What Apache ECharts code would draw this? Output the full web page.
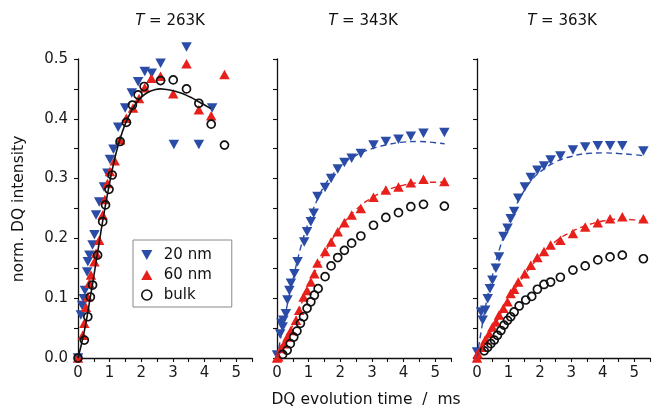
<!DOCTYPE html>
<html>
<head>
<meta charset="utf-8">
<script src="https://cdn.jsdelivr.net/npm/echarts@6/dist/echarts.min.js"></script>
<style>
  html, body { margin: 0; padding: 0; background: #fff; }
  #chart { width: 653px; height: 411px; }
</style>
</head>
<body>
<div id="chart"></div>
<script>
// DQ build-up curves: normalised DQ intensity vs DQ evolution time (ms)
const temperatures = ['263K', '343K', '363K'];
const sampleNames = ['20 nm', '60 nm', 'bulk'];
const xTicks = [0, 1, 2, 3, 4, 5];
const yTicks = ['0.0', '0.1', '0.2', '0.3', '0.4', '0.5'];

// T = 263K
const p263_20nm = [[0,0],[0.09,0.072],[0.13,0.088],[0.18,0.099],[0.22,0.113],[0.29,0.144],[0.31,0.161],[0.36,0.172],[0.46,0.189],[0.52,0.206],[0.57,0.239],[0.67,0.261],[0.82,0.286],[0.93,0.309],[1.01,0.332],[1.12,0.349],[1.27,0.386],[1.49,0.418],[1.70,0.443],[1.90,0.462],[2.11,0.479],[2.33,0.476],[2.61,0.493],[3.03,0.357],[3.43,0.520],[3.82,0.357],[4.24,0.418]];
const p263_60nm = [[0,0],[0.15,0.038],[0.2,0.058],[0.25,0.085],[0.31,0.102],[0.36,0.125],[0.41,0.139],[0.52,0.161],[0.57,0.175],[0.67,0.197],[0.78,0.239],[0.85,0.265],[0.93,0.292],[1.01,0.312],[1.16,0.330],[1.33,0.365],[1.53,0.401],[1.74,0.418],[1.93,0.434],[2.11,0.452],[2.32,0.468],[2.61,0.471],[3.01,0.442],[3.43,0.492],[3.82,0.415],[4.21,0.405],[4.63,0.474]];
const p263_bulk = [[0,0],[0.2,0.03],[0.31,0.069],[0.39,0.102],[0.46,0.122],[0.62,0.172],[0.78,0.228],[0.87,0.256],[0.98,0.282],[1.08,0.306],[1.33,0.362],[1.53,0.394],[1.72,0.423],[1.90,0.440],[2.09,0.454],[2.61,0.464],[3.01,0.465],[3.43,0.450],[3.82,0.426],[4.21,0.391],[4.63,0.356]];
const fit263_bulk = [[0,0],[0.2,0.045],[0.4,0.105],[0.6,0.17],[0.8,0.235],[1.0,0.293],[1.2,0.342],[1.4,0.378],[1.6,0.404],[1.8,0.423],[2.0,0.436],[2.2,0.444],[2.4,0.448],[2.6,0.450],[2.8,0.449],[3.0,0.447],[3.2,0.444],[3.4,0.440],[3.6,0.435],[3.8,0.429],[4.0,0.423],[4.2,0.417]];

// T = 343K
const p343_20nm = [[0,0.005],[0.1,0.04],[0.14,0.058],[0.18,0.052],[0.2,0.063],[0.28,0.074],[0.33,0.097],[0.39,0.113],[0.44,0.125],[0.55,0.141],[0.65,0.161],[0.86,0.194],[0.95,0.211],[1.07,0.228],[1.16,0.242],[1.28,0.270],[1.52,0.285],[1.71,0.300],[1.92,0.316],[2.13,0.327],[2.36,0.334],[2.65,0.342],[3.05,0.356],[3.44,0.362],[3.84,0.366],[4.23,0.371],[4.63,0.376],[5.29,0.377]];
const p343_60nm = [[0,0],[0.04,0.002],[0.13,0.016],[0.23,0.024],[0.33,0.035],[0.44,0.046],[0.60,0.063],[0.70,0.080],[0.84,0.102],[0.95,0.113],[1.07,0.127],[1.18,0.141],[1.28,0.159],[1.52,0.178],[1.71,0.194],[1.92,0.211],[2.13,0.226],[2.36,0.239],[2.65,0.250],[3.05,0.269],[3.44,0.281],[3.84,0.286],[4.23,0.293],[4.63,0.299],[5.29,0.295]];
const p343_bulk = [[0.18,0.006],[0.32,0.013],[0.42,0.024],[0.53,0.035],[0.63,0.045],[0.74,0.058],[0.84,0.069],[0.95,0.083],[1.07,0.094],[1.18,0.105],[1.30,0.116],[1.52,0.136],[1.71,0.154],[1.92,0.168],[2.13,0.180],[2.36,0.192],[2.65,0.204],[3.05,0.222],[3.44,0.235],[3.84,0.243],[4.23,0.253],[4.63,0.257],[5.29,0.254]];
const fit343_20nm = [[0,0],[0.25,0.07],[0.5,0.13],[0.75,0.185],[1,0.228],[1.25,0.262],[1.5,0.288],[1.75,0.306],[2,0.321],[2.5,0.339],[3,0.350],[3.5,0.357],[4,0.361],[4.5,0.362],[5,0.360],[5.3,0.358]];
const fit343_60nm = [[0,0],[0.5,0.055],[1,0.12],[1.5,0.175],[2,0.218],[2.5,0.248],[3,0.268],[3.5,0.281],[4,0.289],[4.5,0.293],[5,0.294],[5.3,0.294]];

// T = 363K
const p363_20nm = [[0,0.01],[0.13,0.077],[0.18,0.063],[0.26,0.080],[0.34,0.099],[0.41,0.116],[0.49,0.130],[0.60,0.150],[0.70,0.169],[0.84,0.203],[0.97,0.217],[1.07,0.233],[1.18,0.245],[1.31,0.267],[1.52,0.286],[1.71,0.302],[1.92,0.314],[2.13,0.321],[2.34,0.331],[2.65,0.338],[3.05,0.348],[3.44,0.353],[3.84,0.355],[4.23,0.355],[4.62,0.355],[5.29,0.346]];
const p363_60nm = [[0,0],[0.02,0.007],[0.16,0.018],[0.26,0.030],[0.39,0.041],[0.49,0.052],[0.60,0.060],[0.70,0.072],[0.84,0.083],[0.97,0.094],[1.07,0.108],[1.18,0.115],[1.31,0.127],[1.52,0.141],[1.71,0.155],[1.92,0.168],[2.13,0.178],[2.34,0.189],[2.65,0.197],[3.05,0.208],[3.44,0.219],[3.84,0.226],[4.23,0.233],[4.62,0.236],[5.29,0.233]];
const p363_bulk = [[0.23,0.012],[0.34,0.018],[0.44,0.024],[0.55,0.030],[0.65,0.038],[0.76,0.046],[0.86,0.055],[0.97,0.063],[1.07,0.069],[1.18,0.077],[1.34,0.087],[1.55,0.097],[1.74,0.103],[1.92,0.115],[2.13,0.123],[2.34,0.127],[2.65,0.135],[3.05,0.147],[3.44,0.154],[3.84,0.164],[4.23,0.169],[4.62,0.172],[5.29,0.166]];
const fit363_20nm = [[0,0],[0.25,0.08],[0.5,0.14],[0.75,0.188],[1,0.225],[1.25,0.256],[1.5,0.28],[1.75,0.298],[2,0.311],[2.5,0.328],[3,0.337],[3.5,0.342],[4,0.343],[4.5,0.342],[5,0.340],[5.3,0.338]];
const fit363_60nm = [[0,0],[0.5,0.048],[1,0.097],[1.5,0.138],[2,0.17],[2.5,0.195],[3,0.211],[3.5,0.222],[4,0.229],[4.5,0.232],[5,0.231],[5.3,0.229]];

const FONT = '"DejaVu Sans", "Liberation Sans", Arial, sans-serif';
const BLUE = '#2a4ca6';
const RED = '#e8201b';
const INK = '#111111';
const DOWN_TRI = 'path://M0,0L10,0L5,9Z';
const UP_TRI = 'path://M5,0L10,9L0,9Z';

const panelData = [
  { pts: [p263_20nm, p263_60nm, p263_bulk], fits: [null, null, fit263_bulk] },
  { pts: [p343_20nm, p343_60nm, p343_bulk], fits: [fit343_20nm, fit343_60nm, null] },
  { pts: [p363_20nm, p363_60nm, p363_bulk], fits: [fit363_20nm, fit363_60nm, null] }
];
const gridLefts = [78, 277, 477];
const titleCenters = [170, 363, 562];

const markerStyles = [
  { symbol: DOWN_TRI, symbolSize: [10.5, 9.5], itemStyle: { color: BLUE, opacity: 1 } },
  { symbol: UP_TRI, symbolSize: [10.5, 9.5], itemStyle: { color: RED, opacity: 1 } },
  { symbol: 'circle', symbolSize: 8, itemStyle: { color: 'rgba(0,0,0,0)', borderColor: INK, borderWidth: 1.7, opacity: 1 } }
];
const fitColors = [BLUE, RED, INK];

const grids = gridLefts.map(l => ({ left: l, top: 59, width: 174, height: 299 }));

const isWhole = v => Math.abs(v - Math.round(v)) < 1e-6;

const xAxes = gridLefts.map((_, i) => ({
  type: 'value', gridIndex: i, min: 0, max: 5.5, interval: 0.5,
  axisLine: { show: true, onZero: false, lineStyle: { color: INK, width: 1.3 } },
  axisTick: { show: true, length: 4, lineStyle: { color: INK, width: 1.1 } },
  axisLabel: {
    formatter: v => (isWhole(v) && xTicks.indexOf(Math.round(v)) >= 0) ? String(Math.round(v)) : '',
    fontSize: 15, fontFamily: FONT, color: '#1a1a1a', margin: 8
  },
  splitLine: { show: false }
}));

const yAxes = gridLefts.map((_, i) => ({
  type: 'value', gridIndex: i, min: 0, max: 0.5, interval: 0.05,
  axisLine: { show: true, onZero: false, lineStyle: { color: INK, width: 1.3 } },
  axisTick: { show: true, length: 4, lineStyle: { color: INK, width: 1.1 } },
  axisLabel: {
    show: i === 0,
    formatter: v => {
      const k = Math.round(v * 10);
      return Math.abs(v * 10 - k) < 1e-6 ? yTicks[k] : '';
    },
    fontSize: 15, fontFamily: FONT, color: '#1a1a1a', margin: 10
  },
  splitLine: { show: false }
}));

const series = [];
panelData.forEach((panel, i) => {
  panel.pts.forEach((pts, s) => {
    series.push(Object.assign({
      type: 'scatter', name: sampleNames[s], xAxisIndex: i, yAxisIndex: i,
      data: pts, clip: false, z: 2 + s
    }, markerStyles[s]));
  });
  panel.fits.forEach((fit, s) => {
    if (!fit) return;
    series.push({
      type: 'line', xAxisIndex: i, yAxisIndex: i, data: fit, smooth: true,
      showSymbol: false, silent: true, z: s === 2 ? 6 : 5,
      lineStyle: { color: fitColors[s], width: s === 2 ? 1.6 : 1.4, type: s === 2 ? 'solid' : [6, 4] }
    });
  });
});

const graphics = temperatures.map((t, i) => ({
  type: 'text', x: titleCenters[i], y: 21,
  style: {
    text: '{i|T} = ' + t, fill: INK, font: '15px ' + FONT,
    textAlign: 'center', textVerticalAlign: 'middle',
    rich: { i: { fontStyle: 'italic', fontSize: 15, fontFamily: FONT, fill: INK } }
  }
}));
graphics.push({
  type: 'text', x: 19, y: 209, rotation: Math.PI / 2,
  style: { text: 'norm. DQ intensity', fill: INK, font: '15.5px ' + FONT, textAlign: 'center', textVerticalAlign: 'middle' }
});
graphics.push({
  type: 'text', x: 366, y: 400,
  style: { text: 'DQ evolution time  /  ms', fill: INK, font: '15.5px ' + FONT, textAlign: 'center', textVerticalAlign: 'middle' }
});

const option = {
  animation: false,
  backgroundColor: '#ffffff',
  grid: grids,
  xAxis: xAxes,
  yAxis: yAxes,
  legend: {
    left: 133, top: 240, orient: 'vertical',
    backgroundColor: '#ffffff',
    borderColor: '#8a8a8a', borderWidth: 1, borderRadius: 0,
    padding: [7, 20, 4, 8],
    itemWidth: 24, itemHeight: 10, itemGap: 4,
    textStyle: { fontSize: 15, fontFamily: FONT, color: INK, lineHeight: 16 },
    data: [
      { name: sampleNames[0], icon: DOWN_TRI, itemStyle: { color: BLUE, opacity: 1 } },
      { name: sampleNames[1], icon: UP_TRI, itemStyle: { color: RED, opacity: 1 } },
      { name: sampleNames[2], icon: 'circle', itemStyle: { color: 'rgba(0,0,0,0)', borderColor: INK, borderWidth: 1.6 } }
    ],
    selectedMode: false
  },
  graphic: graphics,
  series: series
};

const chart = echarts.init(document.getElementById('chart'), null, { renderer: 'canvas' });
chart.setOption(option);
</script>
</body>
</html>
